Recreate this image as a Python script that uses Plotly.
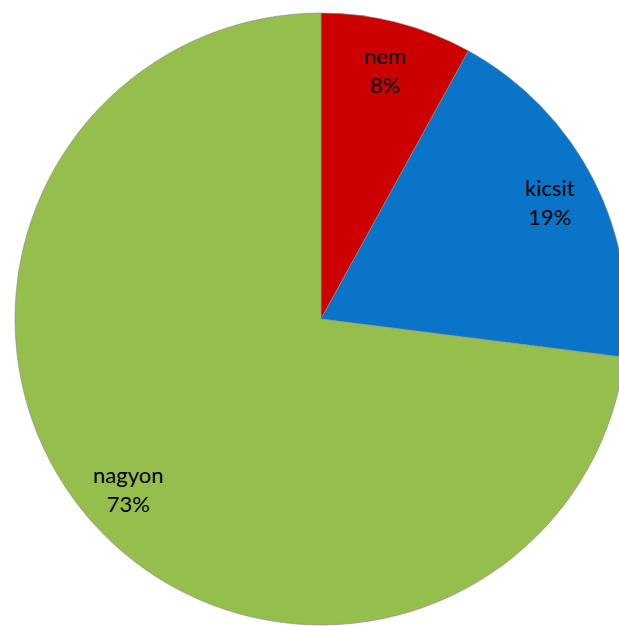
import math
import plotly.graph_objects as go

labels = ["nem", "kicsit", "nagyon"]
values = [8, 19, 73]
colors = ["#CC0000", "#0A74C8", "#96BE4C"]

W, H = 640, 640
cx, cy, R = 321, 319, 306

fig = go.Figure(go.Pie(
    labels=labels, values=values, sort=False, direction="clockwise", rotation=0,
    marker=dict(colors=colors, line=dict(color="rgba(140,140,140,0.6)", width=1)),
    textinfo="none", hoverinfo="label+percent", showlegend=False,
    domain=dict(x=[(cx - R) / W, (cx + R) / W], y=[1 - (cy + R) / H, 1 - (cy - R) / H]),
))

total = sum(values)
cum = 0
for lab, v in zip(labels, values):
    mid = (cum + v / 2) / total * 2 * math.pi
    cum += v
    rr = 0.84 * R
    x = cx + rr * math.sin(mid)
    y = cy - rr * math.cos(mid)
    fig.add_annotation(
        x=x / W, y=1 - y / H, xref="paper", yref="paper",
        xanchor="center", yanchor="middle",
        text=f"{lab}<br>{round(v / total * 100)}%", showarrow=False,
        font=dict(family="Lato, Open Sans, sans-serif", size=22, color="#000000"),
        align="center",
    )

fig.update_layout(width=W, height=H, margin=dict(l=0, r=0, t=0, b=0),
                  paper_bgcolor="white", plot_bgcolor="white")

fig.write_html("out.html", config={"displayModeBar": False},
               post_script="document.body.style.margin='0';document.body.style.overflow='hidden';document.documentElement.style.overflow='hidden';")
